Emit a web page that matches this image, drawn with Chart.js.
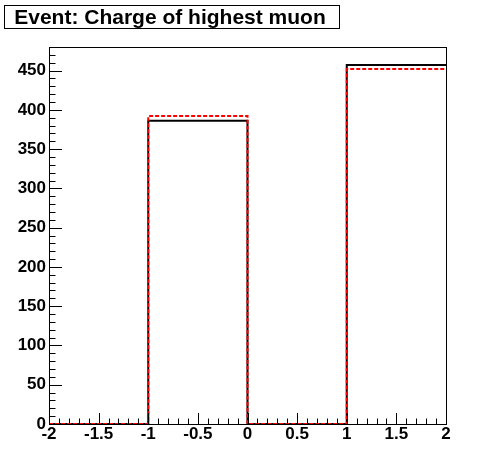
<!DOCTYPE html>
<html>
<head>
<meta charset="utf-8">
<script src="https://cdn.jsdelivr.net/npm/chart.js@4.4.1/dist/chart.umd.min.js"></script>
<style>
  body { margin: 0; background: #fff; }
  #wrap { position: relative; width: 496px; height: 472px; }
</style>
</head>
<body>
<div id="wrap"><canvas id="c" width="496" height="472"></canvas></div>
<script>
// histogram bin edges and contents (two overlaid histograms)
const binEdges = [-2, -1, 0, 1, 2];
const blackValues = [0, 386, 0, 457];
const redValues = [0, 392, 0, 452];
const xTicks = [-2, -1.5, -1, -0.5, 0, 0.5, 1, 1.5, 2];
const yTicks = [0, 50, 100, 150, 200, 250, 300, 350, 400, 450];
const yMax = 480;
const titleText = 'Event: Charge of highest muon';

const FONT = '"Liberation Sans", Arial, Helvetica, sans-serif';

// step points: one per bin left edge, plus last edge repeating final value
// (chart.js 'before' = horizontal at previous y, then vertical)
function stepPoints(vals) {
  const pts = vals.map((v, i) => ({ x: binEdges[i], y: v }));
  pts.push({ x: binEdges[binEdges.length - 1], y: vals[vals.length - 1] });
  return pts;
}

// frame, inside ticks and title box
const rootStyle = {
  id: 'rootStyle',
  afterDraw(chart) {
    const ctx = chart.ctx;
    const a = chart.chartArea;
    const xs = chart.scales.x, ys = chart.scales.y;
    ctx.save();
    ctx.strokeStyle = '#000';
    ctx.lineWidth = 1;
    ctx.strokeRect(Math.round(a.left) + 0.5, Math.round(a.top) + 0.5,
      Math.round(a.right - a.left), Math.round(a.bottom - a.top));

    ctx.beginPath();
    // x ticks, every 0.1, major every 0.5
    for (let i = -20; i <= 20; i++) {
      const px = Math.round(xs.getPixelForValue(i / 10)) + 0.5;
      const len = (i % 5 === 0) ? 11 : 5.5;
      ctx.moveTo(px, a.bottom);
      ctx.lineTo(px, a.bottom - len);
    }
    // y ticks, every 10, major every 50
    for (let v = 0; v <= yMax; v += 10) {
      const py = Math.round(ys.getPixelForValue(v)) + 0.5;
      const len = (v % 50 === 0) ? 13 : 6.5;
      ctx.moveTo(a.left, py);
      ctx.lineTo(a.left + len, py);
    }
    ctx.stroke();

    // title box
    ctx.strokeRect(4.5, 5.5, 335, 23);
    ctx.fillStyle = '#000';
    ctx.font = 'bold 21px ' + FONT;
    ctx.textAlign = 'center';
    ctx.textBaseline = 'alphabetic';
    ctx.fillText(titleText, 170, 24);
    ctx.restore();
  }
};

new Chart(document.getElementById('c'), {
  type: 'line',
  data: {
    datasets: [
      {
        label: 'black',
        data: stepPoints(blackValues),
        stepped: 'before',
        borderColor: '#000',
        borderWidth: 2,
        pointRadius: 0,
        fill: false,
        clip: 4,
        order: 2
      },
      {
        label: 'red',
        data: stepPoints(redValues),
        stepped: 'before',
        borderColor: '#ff0000',
        borderWidth: 2,
        borderDash: [4, 2],
        pointRadius: 0,
        fill: false,
        clip: 4,
        order: 1
      }
    ]
  },
  options: {
    responsive: false,
    animation: false,
    layout: { padding: { top: 47, right: 50, left: 0, bottom: 0 } },
    plugins: {
      legend: { display: false },
      title: { display: false },
      tooltip: { enabled: false }
    },
    scales: {
      x: {
        type: 'linear',
        min: -2,
        max: 2,
        afterBuildTicks: (s) => { s.ticks = xTicks.map(v => ({ value: v })); },
        afterFit: (s) => { s.height = 48; },
        grid: { display: false, drawTicks: false },
        border: { display: false },
        ticks: {
          color: '#000',
          padding: 0,
          maxRotation: 0,
          autoSkip: false,
          font: { family: FONT, weight: 'bold', size: 17 },
          callback: (v) => String(v)
        }
      },
      y: {
        type: 'linear',
        min: 0,
        max: yMax,
        afterBuildTicks: (s) => { s.ticks = yTicks.map(v => ({ value: v })); },
        afterFit: (s) => { s.width = 49; },
        grid: { display: false, drawTicks: false },
        border: { display: false },
        ticks: {
          color: '#000',
          padding: 3,
          autoSkip: false,
          font: { family: FONT, weight: 'bold', size: 17 },
          callback: (v) => String(v)
        }
      }
    }
  },
  plugins: [rootStyle]
});
</script>
</body>
</html>
